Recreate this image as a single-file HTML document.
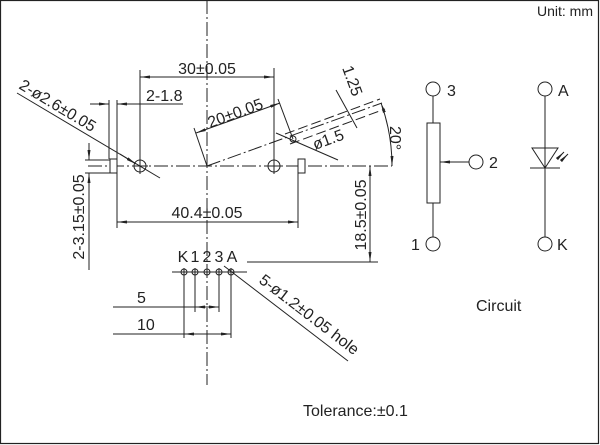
<!DOCTYPE html>
<html><head><style>
html,body{margin:0;padding:0;background:#fff}
svg{display:block}
text{font-family:"Liberation Sans",sans-serif;fill:#222}
</style></head><body>
<svg width="600" height="445" viewBox="0 0 600 445" xmlns="http://www.w3.org/2000/svg">
<defs>
<marker id="a" viewBox="0 0 10 6" refX="10" refY="3" markerWidth="10" markerHeight="6" orient="auto-start-reverse" markerUnits="userSpaceOnUse"><path d="M0,1.5 L10,3 L0,4.5z" fill="#222"/></marker>
</defs>
<rect x="0.5" y="0.5" width="598" height="443" fill="none" stroke="#222" stroke-width="1.2"/>
<g stroke="#222" stroke-width="1" fill="none">
<line x1="207" y1="0" x2="207" y2="385" stroke-dasharray="14,3,2,3"/>
<line x1="88" y1="166" x2="392" y2="166" stroke-dasharray="14,3,2,3"/>
<line x1="207" y1="166" x2="382" y2="103" stroke-dasharray="14,3,2,3"/>
<line x1="285" y1="134" x2="380" y2="99" stroke-dasharray="10,4"/>
<line x1="290" y1="144" x2="385" y2="109" stroke-dasharray="10,4"/>
<circle cx="140" cy="166" r="6"/><line x1="132" y1="166" x2="148" y2="166"/><line x1="140" y1="158" x2="140" y2="174"/>
<circle cx="274" cy="166" r="6"/><line x1="266" y1="166" x2="282" y2="166"/><line x1="274" y1="158" x2="274" y2="174"/>
<circle cx="293" cy="139" r="3"/>
<rect x="110" y="159" width="7" height="14" fill="#fff"/>
<rect x="298" y="159" width="7" height="14" fill="#fff"/>
<line x1="140" y1="70" x2="140" y2="160"/><line x1="274" y1="68" x2="274" y2="160"/>
<line x1="140" y1="77" x2="274" y2="77" marker-start="url(#a)" marker-end="url(#a)"/>
<line x1="109" y1="100" x2="109" y2="159"/><line x1="117" y1="100" x2="117" y2="228"/>
<line x1="90" y1="104" x2="109" y2="104" marker-end="url(#a)"/>
<line x1="117" y1="104" x2="183" y2="104" marker-start="url(#a)"/>
<line x1="298" y1="173" x2="298" y2="228"/>
<line x1="117" y1="222" x2="298" y2="222" marker-start="url(#a)" marker-end="url(#a)"/>
<line x1="85" y1="160" x2="110" y2="160"/><line x1="85" y1="173" x2="110" y2="173"/>
<line x1="89" y1="143" x2="89" y2="160" marker-end="url(#a)"/>
<line x1="89" y1="173" x2="89" y2="270" marker-start="url(#a)"/>
<line x1="17" y1="93" x2="160" y2="178"/>
<line x1="120" y1="154" x2="136" y2="164" marker-end="url(#a)"/>
<line x1="247" y1="262" x2="378" y2="262"/>
<line x1="370" y1="166" x2="370" y2="262" marker-start="url(#a)" marker-end="url(#a)"/>
<line x1="207" y1="166" x2="194" y2="128"/><line x1="293" y1="139" x2="278" y2="99"/>
<line x1="196" y1="133" x2="280" y2="103" marker-start="url(#a)" marker-end="url(#a)"/>
<line x1="336" y1="90" x2="357" y2="128"/>
<line x1="276" y1="133" x2="338" y2="160"/>
<path d="M381,103 A185,185 0 0 1 392,166" marker-start="url(#a)" marker-end="url(#a)"/>
<line x1="172" y1="272" x2="247" y2="272"/>
<circle cx="184" cy="272" r="3"/><circle cx="195" cy="272" r="3"/><circle cx="207" cy="272" r="3"/><circle cx="219" cy="272" r="3"/><circle cx="231" cy="272" r="3"/>
<line x1="184" y1="268" x2="184" y2="338"/><line x1="195" y1="268" x2="195" y2="312"/>
<line x1="219" y1="268" x2="219" y2="312"/><line x1="231" y1="268" x2="231" y2="338"/>
<line x1="113" y1="307" x2="219" y2="307"/><line x1="207" y1="307" x2="195" y2="307" marker-end="url(#a)"/><line x1="207" y1="307" x2="219" y2="307" marker-end="url(#a)"/>
<line x1="113" y1="334" x2="231" y2="334"/><line x1="200" y1="334" x2="184" y2="334" marker-end="url(#a)"/><line x1="214" y1="334" x2="231" y2="334" marker-end="url(#a)"/>
<line x1="224" y1="266" x2="348" y2="361"/>
<circle cx="433" cy="89" r="7"/><line x1="433" y1="96" x2="433" y2="123"/>
<rect x="427" y="123" width="13" height="80"/>
<line x1="433" y1="203" x2="433" y2="237"/><circle cx="433" cy="244" r="7"/>
<circle cx="476" cy="162" r="7"/><line x1="469" y1="162" x2="440" y2="162" marker-end="url(#a)"/>
<circle cx="545" cy="89" r="7"/><line x1="545" y1="96" x2="545" y2="237"/>
<path d="M532,148 L558,148 L545,168z"/><line x1="530" y1="168" x2="560" y2="168"/>
<circle cx="545" cy="244" r="7"/>
<line x1="558" y1="158" x2="564" y2="152" marker-end="url(#a)"/>
<line x1="562" y1="160" x2="568" y2="154" marker-end="url(#a)"/>
</g>
<g font-size="16">
<text x="207" y="74" text-anchor="middle">30±0.05</text>
<text x="146" y="101">2-1.8</text>
<text x="207" y="218" text-anchor="middle">40.4±0.05</text>
<text transform="translate(84,217) rotate(-90)" text-anchor="middle">2-3.15±0.05</text>
<text transform="translate(366,215) rotate(-90)" text-anchor="middle">18.5±0.05</text>
<text transform="translate(18,88) rotate(31)">2-ø2.6±0.05</text>
<text transform="translate(210,128) rotate(-20)">20±0.05</text>
<text transform="translate(342,68) rotate(70)">1.25</text>
<text transform="translate(315,150) rotate(-20)">ø1.5</text>
<text transform="translate(390,126) rotate(90)">20°</text>
<text x="183" y="262" text-anchor="middle">K</text><text x="195" y="262" text-anchor="middle">1</text><text x="207" y="262" text-anchor="middle">2</text><text x="219" y="262" text-anchor="middle">3</text><text x="232" y="262" text-anchor="middle">A</text>
<text x="137" y="303">5</text>
<text x="137" y="330">10</text>
<text transform="translate(258,282) rotate(37.5)">5-ø1.2±0.05 hole</text>
<text x="447" y="96">3</text><text x="489" y="168">2</text><text x="411" y="250">1</text>
<text x="558" y="96">A</text><text x="557" y="250">K</text>
<text x="476" y="311">Circuit</text>
<text x="303" y="416">Tolerance:±0.1</text>
<text x="593" y="16" text-anchor="end" font-size="14">Unit: mm</text>
</g>
</svg>
</body></html>
